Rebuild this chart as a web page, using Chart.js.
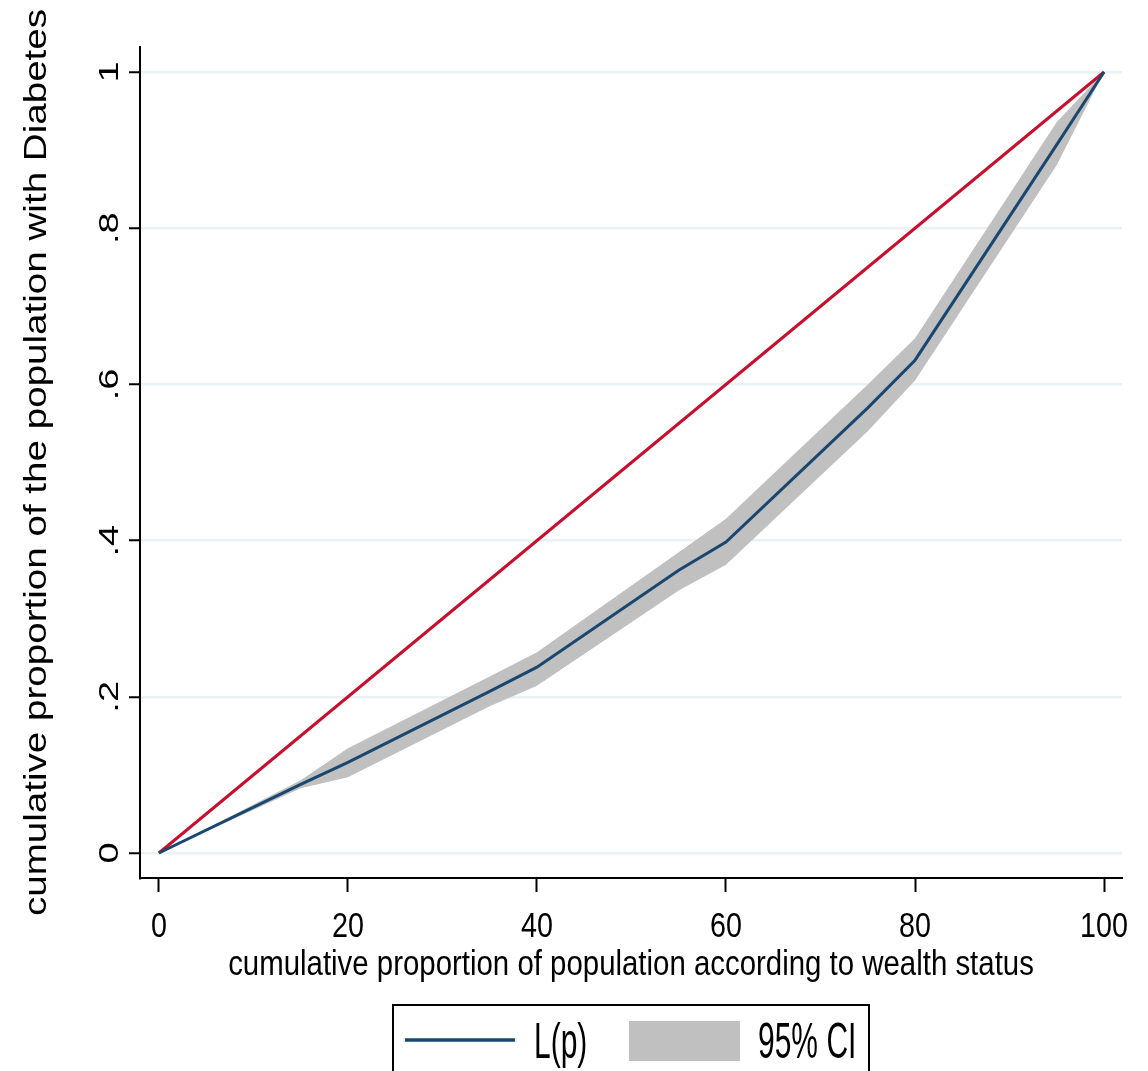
<!DOCTYPE html>
<html>
<head>
<meta charset="utf-8">
<script src="https://cdn.jsdelivr.net/npm/chart.js@4.4.0/dist/chart.umd.min.js"></script>
<style>
  body { margin: 0; background: #fff; }
</style>
</head>
<body>
<canvas id="myChart" width="1148" height="1071"></canvas>
<script>
// Values (x in %, y as proportion)
const popShare = [0, 15, 20, 35, 40, 55, 60, 75, 80, 95, 100];
const lorenz   = [0, 0.088, 0.116, 0.207, 0.238, 0.362, 0.398, 0.570, 0.631, 0.907, 1];
const ciUpper  = [0, 0.093, 0.134, 0.226, 0.257, 0.385, 0.428, 0.600, 0.659, 0.936, 1];
const ciLower  = [0, 0.083, 0.097, 0.188, 0.214, 0.336, 0.369, 0.540, 0.605, 0.881, 1];
const equalityX = [0, 100];
const equalityY = [0, 1];

const xTicks = [0, 20, 40, 60, 80, 100];
const yTickValues = [0, 0.2, 0.4, 0.6, 0.8, 1];
const yTickLabels = ['0', '.2', '.4', '.6', '.8', '1'];

const xTitle = 'cumulative proportion of population according to wealth status';
const yTitle = 'cumulative proportion of the population with Diabetes';

const FONT = '"Liberation Sans", Arial, sans-serif';

function pts(xs, ys) {
    return xs.map((x, i) => ({x: x, y: ys[i]}));
}

// text helper: squeezes glyphs horizontally like the original export
function drawText(ctx, text, x, y, size, sx, angle, align) {
    ctx.save();
    ctx.translate(x, y);
    ctx.scale(sx, 1);
    ctx.rotate(angle);
    ctx.font = size + 'px ' + FONT;
    ctx.fillStyle = '#000';
    ctx.textAlign = align;
    ctx.textBaseline = 'alphabetic';
    ctx.fillText(text, 0, 0);
    ctx.restore();
}

const textPlugin = {
    id: 'stataText',
    afterDraw(chart) {
        const ctx = chart.ctx;
        const xs = chart.scales.x, ys = chart.scales.y;
        const area = chart.chartArea;

        xTicks.forEach(v => {
            drawText(ctx, String(v), xs.getPixelForValue(v), 937, 35, 0.82, 0, 'center');
        });
        yTickValues.forEach((v, i) => {
            drawText(ctx, yTickLabels[i], 118, ys.getPixelForValue(v), 38, 0.75, -Math.PI / 2, 'center');
        });

        drawText(ctx, xTitle, (area.left + area.right) / 2, 975, 35, 0.84, 0, 'center');
        drawText(ctx, yTitle, 46, (area.top + area.bottom) / 2, 38.6, 0.8, -Math.PI / 2, 'center');

        // legend box
        const lp = chart.data.datasets[0], band = chart.data.datasets[2];
        ctx.save();
        ctx.strokeStyle = '#000';
        ctx.lineWidth = 2;
        ctx.strokeRect(393, 1005, 476, 90);
        ctx.strokeStyle = lp.borderColor;
        ctx.lineWidth = 3.5;
        ctx.beginPath();
        ctx.moveTo(405, 1040);
        ctx.lineTo(515, 1040);
        ctx.stroke();
        ctx.fillStyle = band.backgroundColor;
        ctx.fillRect(629, 1021, 111, 40);
        ctx.restore();
        drawText(ctx, lp.label, 534, 1058, 50, 0.6, 0, 'left');
        drawText(ctx, band.label, 758, 1058, 50, 0.6, 0, 'left');
    }
};

// Chart.js paints the last dataset first, so the curve goes first here
new Chart(document.getElementById('myChart').getContext('2d'), {
    type: 'line',
    data: {
        datasets: [{
            label: 'L(p)',
            data: pts(popShare, lorenz),
            borderColor: '#1a476f',
            borderWidth: 3,
            pointRadius: 0,
            fill: false,
            tension: 0
        }, {
            label: 'Line of equality',
            data: pts(equalityX, equalityY),
            borderColor: '#c8102e',
            borderWidth: 3,
            pointRadius: 0,
            fill: false,
            tension: 0
        }, {
            label: '95% CI',
            data: pts(popShare, ciUpper),
            borderColor: 'rgba(0,0,0,0)',
            backgroundColor: '#c0c0c0',
            borderWidth: 0,
            pointRadius: 0,
            fill: '+1',
            tension: 0
        }, {
            label: 'CI lower',
            data: pts(popShare, ciLower),
            borderColor: 'rgba(0,0,0,0)',
            borderWidth: 0,
            pointRadius: 0,
            fill: false,
            tension: 0
        }]
    },
    options: {
        responsive: false,
        animation: false,
        layout: { padding: { top: 47, right: 26, left: 0, bottom: 0 } },
        plugins: {
            legend: { display: false },
            tooltip: { enabled: false }
        },
        scales: {
            x: {
                type: 'linear',
                min: -2.0,
                max: 101.9,
                ticks: { display: false, stepSize: 20, includeBounds: false },
                grid: {
                    drawOnChartArea: false,
                    drawTicks: true,
                    tickLength: 14,
                    tickColor: '#000',
                    tickWidth: 2
                },
                border: { display: true, color: '#000', width: 2 },
                afterFit(scale) { scale.height = 193; }
            },
            y: {
                type: 'linear',
                min: -0.032,
                max: 1.032,
                ticks: { display: false, stepSize: 0.2, includeBounds: false },
                grid: {
                    color: '#eaf1f2',
                    lineWidth: 2.5,
                    drawTicks: true,
                    tickLength: 11,
                    tickColor: '#000',
                    tickWidth: 2
                },
                border: { display: true, color: '#000', width: 2 },
                afterFit(scale) { scale.width = 140; }
            }
        }
    },
    plugins: [textPlugin]
});
</script>
</body>
</html>
